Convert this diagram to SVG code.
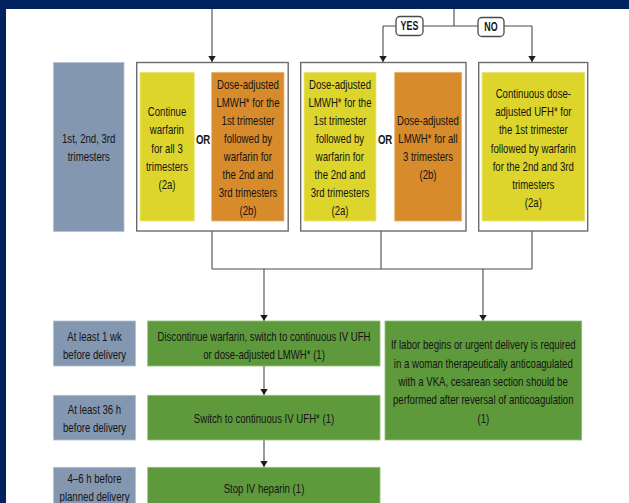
<svg xmlns="http://www.w3.org/2000/svg" width="629" height="503" viewBox="0 0 629 503">
  <style>
    text { font-family: "Liberation Sans", Arial, sans-serif; font-size: 13px; fill: #141414; text-anchor: middle;
           transform-box: fill-box; transform-origin: center; transform: scaleX(0.74); }
    .or { font-weight: bold; font-size: 13px; }
    .tag { font-weight: bold; font-size: 12px; }
    .stage { fill: #8497b0; stroke: #b4c0d2; stroke-width: 0.8; }
    .frame { fill: #ffffff; stroke: #6b6b6b; stroke-width: 1.4; }
    .yellow { fill: #ded52c; stroke: #ece67a; stroke-width: 0.8; }
    .orange { fill: #d88b2b; stroke: #e9b575; stroke-width: 0.8; }
    .green { fill: #5e9a3c; stroke: #93bf78; stroke-width: 0.8; }
    .label { fill: #ffffff; stroke: #4a4a4a; stroke-width: 1.3; }
    .conn line, .conn path { stroke: #4a4a4a; stroke-width: 1.1; fill: none; }
  </style>
  <defs>
    <marker id="arrow" viewBox="0 0 8 10" refX="8" refY="5" markerWidth="6" markerHeight="8" markerUnits="userSpaceOnUse" orient="auto">
      <path d="M0,0 L8,5 L0,10 Z" fill="#1e1e1e"/>
    </marker>
  </defs>

  <!-- page border -->
  <rect x="0" y="0" width="629" height="503" fill="#012060"/>
  <rect x="6" y="9" width="623" height="494" fill="#ffffff"/>

  <!-- connectors -->
  <g id="connectors" class="conn">
    <line x1="212" y1="9" x2="212" y2="62" marker-end="url(#arrow)"/>
    <line x1="454" y1="9" x2="454" y2="26"/>
    <line x1="383" y1="26" x2="532" y2="26"/>
    <line x1="383" y1="26" x2="383" y2="62" marker-end="url(#arrow)"/>
    <line x1="532" y1="26" x2="532" y2="62" marker-end="url(#arrow)"/>
    <line x1="212" y1="231" x2="212" y2="269"/>
    <line x1="381" y1="231" x2="381" y2="269"/>
    <line x1="532" y1="231" x2="532" y2="269"/>
    <line x1="212" y1="269" x2="532" y2="269"/>
    <line x1="264" y1="269" x2="264" y2="321" marker-end="url(#arrow)"/>
    <line x1="483" y1="269" x2="483" y2="321" marker-end="url(#arrow)"/>
    <line x1="264" y1="366" x2="264" y2="395" marker-end="url(#arrow)"/>
    <line x1="264" y1="440" x2="264" y2="467" marker-end="url(#arrow)"/>
  </g>

  <!-- branch labels -->
  <g id="label-yes">
    <rect class="label" x="396" y="16.5" width="27" height="19" rx="4"/>
    <text class="tag" x="409.5" y="30.3">YES</text>
  </g>
  <g id="label-no">
    <rect class="label" x="478" y="17.5" width="26" height="19" rx="4"/>
    <text class="tag" x="491" y="31.3">NO</text>
  </g>

  <!-- stage: trimesters -->
  <g id="stage-trimesters">
    <rect class="stage" x="53.5" y="62.5" width="70.5" height="169"/>
    <text x="88.7" y="143.5">1st, 2nd, 3rd</text>
    <text x="88.7" y="161.5">trimesters</text>
  </g>

  <!-- option group 1 -->
  <g id="option-1">
    <rect class="frame" x="136.7" y="62.5" width="151.5" height="168.5"/>
    <rect class="yellow" x="140" y="72.3" width="54.3" height="148.7"/>
    <text x="167" y="116.5">Continue</text>
    <text x="167" y="134.5">warfarin</text>
    <text x="167" y="153">for all 3</text>
    <text x="167" y="171.5">trimesters</text>
    <text x="167" y="189.5">(2a)</text>
    <text class="or" x="203" y="144">OR</text>
    <rect class="orange" x="211.7" y="72.3" width="72.3" height="148.7"/>
    <text x="248" y="89">Dose-adjusted</text>
    <text x="248" y="107.3">LMWH* for the</text>
    <text x="248" y="125.5">1st trimester</text>
    <text x="248" y="143.5">followed by</text>
    <text x="248" y="161.5">warfarin for</text>
    <text x="248" y="179.5">the 2nd and</text>
    <text x="248" y="197.5">3rd trimesters</text>
    <text x="248" y="215.5">(2b)</text>
  </g>

  <!-- option group 2 -->
  <g id="option-2">
    <rect class="frame" x="300.7" y="62.5" width="165.3" height="168.5"/>
    <rect class="yellow" x="304" y="72.3" width="72" height="148.7"/>
    <text x="340" y="89">Dose-adjusted</text>
    <text x="340" y="107.3">LMWH* for the</text>
    <text x="340" y="125.5">1st trimester</text>
    <text x="340" y="143.5">followed by</text>
    <text x="340" y="161.5">warfarin for</text>
    <text x="340" y="179.5">the 2nd and</text>
    <text x="340" y="197.5">3rd trimesters</text>
    <text x="340" y="215.5">(2a)</text>
    <text class="or" x="385" y="144">OR</text>
    <rect class="orange" x="394.7" y="72.3" width="67" height="148.7"/>
    <text x="428" y="125.5">Dose-adjusted</text>
    <text x="428" y="143.5">LMWH* for all</text>
    <text x="428" y="161.5">3 trimesters</text>
    <text x="428" y="179.5">(2b)</text>
  </g>

  <!-- option group 3 -->
  <g id="option-3">
    <rect class="frame" x="478.7" y="62.5" width="109" height="168.5"/>
    <rect class="yellow" x="482" y="72.3" width="102.7" height="148.7"/>
    <text x="533.3" y="98">Continuous dose-</text>
    <text x="533.3" y="116.5">adjusted UFH* for</text>
    <text x="533.3" y="134.5">the 1st trimester</text>
    <text x="533.3" y="152.8">followed by warfarin</text>
    <text x="533.3" y="170.8">for the 2nd and 3rd</text>
    <text x="533.3" y="188.8">trimesters</text>
    <text x="533.3" y="206.8">(2a)</text>
  </g>

  <!-- stage: 1 week -->
  <g id="stage-1wk">
    <rect class="stage" x="53.5" y="321" width="82" height="45"/>
    <text x="94.5" y="341.5">At least 1 wk</text>
    <text x="94.5" y="359">before delivery</text>
  </g>
  <g id="step-discontinue">
    <rect class="green" x="147.7" y="321" width="232.3" height="45"/>
    <text x="264" y="341.5">Discontinue warfarin, switch to continuous IV UFH</text>
    <text x="264" y="359">or dose-adjusted LMWH* (1)</text>
  </g>

  <!-- urgent delivery -->
  <g id="step-urgent">
    <rect class="green" x="385" y="321" width="196.7" height="119"/>
    <text x="483.3" y="349.5">If labor begins or urgent delivery is required</text>
    <text x="483.3" y="367.8">in a woman therapeutically anticoagulated</text>
    <text x="483.3" y="386.2">with a VKA, cesarean section should be</text>
    <text x="483.3" y="404.5">performed after reversal of anticoagulation</text>
    <text x="483.3" y="422.8">(1)</text>
  </g>

  <!-- stage: 36 h -->
  <g id="stage-36h">
    <rect class="stage" x="53.5" y="395.3" width="82" height="44.7"/>
    <text x="94.5" y="414.5">At least 36 h</text>
    <text x="94.5" y="432.2">before delivery</text>
  </g>
  <g id="step-ufh">
    <rect class="green" x="147.7" y="395.3" width="232.3" height="44.7"/>
    <text x="264" y="422.8">Switch to continuous IV UFH* (1)</text>
  </g>

  <!-- stage: 4-6 h -->
  <g id="stage-4-6h">
    <rect class="stage" x="53.5" y="467.3" width="82" height="44.7"/>
    <text x="94.5" y="483.5">4–6 h before</text>
    <text x="94.5" y="501.2">planned delivery</text>
  </g>
  <g id="step-stop">
    <rect class="green" x="147.7" y="467.3" width="232.3" height="44.7"/>
    <text x="264" y="492.8">Stop IV heparin (1)</text>
  </g>
</svg>
